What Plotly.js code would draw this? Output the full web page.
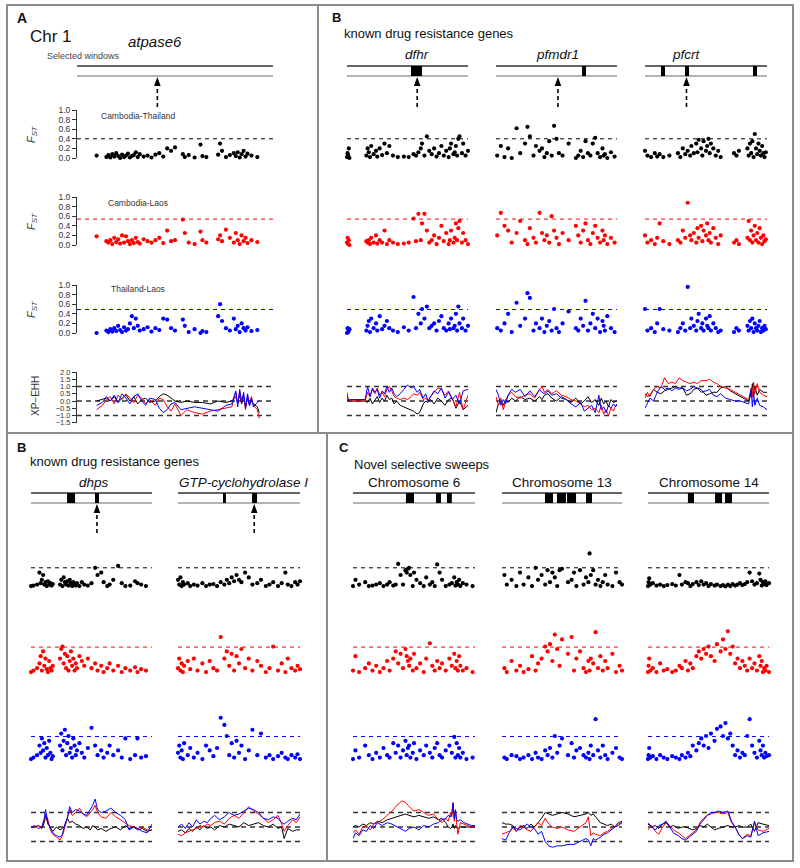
<!DOCTYPE html>
<html><head><meta charset="utf-8">
<script src="https://cdn.plot.ly/plotly-3.0.1.min.js"></script>
<style>html,body{margin:0;padding:0;background:#fff}#chart{width:800px;height:868px}</style>
</head><body><div id="chart"></div>
<script>
// ---------------- DATA ----------------
// FST thresholds (Cambodia-Thailand, Cambodia-Laos, Thailand-Laos) and XP-EHH guide levels
const FST_THRESH = [0.4, 0.54, 0.49];
const XP_GUIDES = [1, 0, -1];
const FST_TICKS = [0, 0.2, 0.4, 0.6, 0.8, 1.0];
const XP_TICKS = [-1.5, -1.0, -0.5, 0, 0.5, 1.0, 1.5, 2.0];
const COMPARISONS = ['Cambodia-Thailand', 'Cambodia-Laos', 'Thailand-Laos'];

// Chr 1 / atpase6
const A_pos = [10,15,16,17,18,19,20,21,22,23, 24,25,26,27,28,29,30,31,32,34, 36,38,40,42,44,46,48,50,54,55, 57,60,63,64,66,72,73,74,76,78, 80,81,82,83,84,85,86,87,89,92];
const A_fstCT = [0.05,0.02,0.06,0.01,0.08,0.03,0.10,0.04,0.00,0.07, 0.02,0.05,0.09,0.01,0.04,0.06,0.12,0.02,0.08,0.03, 0.05,0.01,0.07,0.10,0.03,0.20,0.15,0.22,0.08,0.02, 0.06,0.01,0.28,0.04,0.02,0.07,0.30,0.15,0.02,0.06, 0.10,0.04,0.12,0.01,0.08,0.15,0.03,0.09,0.05,0.02];
const A_fstCL = [0.18,0.08,0.05,0.10,0.02,0.15,0.06,0.12,0.03,0.20, 0.05,0.18,0.08,0.02,0.10,0.04,0.15,0.06,0.03,0.12, 0.08,0.05,0.10,0.15,0.04,0.30,0.08,0.10,0.53,0.25, 0.05,0.02,0.28,0.10,0.05,0.12,0.20,0.08,0.32,0.15, 0.05,0.25,0.10,0.02,0.20,0.08,0.15,0.04,0.10,0.06];
const A_fstTL = [0.00,0.05,0.02,0.08,0.03,0.10,0.04,0.15,0.06,0.02, 0.12,0.05,0.08,0.20,0.35,0.10,0.30,0.15,0.05,0.08, 0.12,0.03,0.10,0.06,0.30,0.28,0.10,0.05,0.28,0.15, 0.02,0.08,0.00,0.04,0.02,0.35,0.60,0.25,0.10,0.05, 0.30,0.08,0.15,0.02,0.20,0.10,0.05,0.12,0.04,0.06];
const A_xpPos = [10,13,15,17,19,21,23,25,27,29, 31,33,35,37,40,42,44,46,48,50, 53,56,60,64,68,72,76,79,81,82, 83,84,85,86,87,88,89,90,92,93];
const A_xpCT = [0.0,0.1,0.2,0.0,0.3,-0.1,0.2,0.4,0.0,0.3, -0.2,0.1,0.2,-0.1,0.0,0.3,0.5,0.4,0.2,0.0, -0.1,0.0,-0.1,-0.1,-0.2,0.0,-0.1,0.0,0.3,-0.1, 0.4,-0.2,0.3,-0.4,0.2,-0.3,0.0,-0.2,-0.4,-0.8];
const A_xpCL = [-0.6,-0.3,0.1,0.3,-0.2,0.4,0.1,0.5,0.2,-0.1, 0.4,0.2,-0.2,0.1,-0.3,0.2,0.1,-0.4,-0.7,-0.2, -1.0,-0.6,-0.8,-0.9,-0.7,-0.6,-0.5,-0.4,0.6,-0.2, 0.7,-0.1,0.5,-0.6,0.4,-0.2,0.3,-0.3,-0.6,-1.2];
const A_xpTL = [-0.3,-0.1,0.3,0.0,0.4,-0.1,0.5,0.2,-0.2,0.3, 0.5,0.0,-0.3,0.2,0.1,-0.5,-0.8,-0.6,-0.2,-0.1, -0.6,-0.5,-0.4,-0.5,-0.6,-0.7,-0.3,-0.2,0.7,-0.4, 0.8,-0.1,0.6,-0.5,0.5,-0.3,0.2,-0.4,-0.1,0.0];
const A_boxes = [];
const A_arrow = 41;

// dfhr
const dfhr_pos = [0,0.5,1,1.5,2,16,17,18,19,20, 22,24,25,27,29,31,33,35,38,42, 47,51,55,57,59,61,62,64,66,68, 70,72,74,76,78,80,82,84,85,86, 88,89,90,91,92,93,95,96,98,100];
const dfhr_fstCT = [0.02,0.10,0.05,0.20,0.00,0.05,0.20,0.12,0.02,0.25, 0.08,0.15,0.03,0.20,0.06,0.30,0.10,0.25,0.05,0.02, 0.03,0.02,0.08,0.05,0.12,0.20,0.30,0.05,0.45,0.15, 0.08,0.20,0.03,0.10,0.25,0.05,0.15,0.02,0.20,0.30, 0.08,0.12,0.25,0.05,0.40,0.45,0.10,0.30,0.05,0.15];
const dfhr_fstCL = [0.05,0.15,0.02,0.10,0.00,0.08,0.05,0.10,0.02,0.15, 0.05,0.20,0.03,0.10,0.05,0.30,0.02,0.10,0.05,0.02, 0.03,0.05,0.55,0.08,0.65,0.10,0.45,0.65,0.30,0.05, 0.10,0.20,0.02,0.15,0.40,0.08,0.25,0.02,0.10,0.30, 0.05,0.15,0.45,0.10,0.35,0.50,0.05,0.25,0.10,0.02];
const dfhr_fstTL = [0.00,0.10,0.02,0.05,0.08,0.05,0.15,0.25,0.02,0.30, 0.10,0.20,0.05,0.35,0.08,0.15,0.25,0.10,0.05,0.02, 0.12,0.05,0.75,0.10,0.40,0.20,0.50,0.30,0.55,0.10, 0.15,0.20,0.05,0.25,0.35,0.10,0.05,0.20,0.08,0.30, 0.10,0.15,0.40,0.05,0.55,0.20,0.10,0.30,0.05,0.15];
const dfhr_xpPos = [0,1,3,6,10,15,17,19,21,23, 25,27,29,31,33,35,37,39,41,44, 47,50,53,55,58,60,63,65,67,69, 72,75,78,81,84,87,90,93,96,100];
const dfhr_xpCT = [0.5,0.0,0.0,0.0,0.0,0.0,-0.1,0.2,-0.2,0.1, 0.3,-0.1,0.2,0.0,0.4,0.1,0.2,-0.2,0.0,-0.3, -0.4,-0.5,-0.6,-0.7,-0.9,-0.8,-0.2,0.0,-0.1,0.1, -0.2,0.2,0.0,-0.3,0.1,0.2,-0.5,0.0,-0.6,-0.3];
const dfhr_xpCL = [0.6,0.1,0.0,0.0,0.0,0.0,0.6,0.3,0.8,0.5, 0.9,0.4,0.6,0.3,0.8,1.0,0.7,0.3,0.2,0.1, 0.2,0.1,0.3,0.5,0.4,0.6,0.1,0.2,0.0,0.3, 0.6,0.9,0.8,0.4,0.7,0.2,-0.4,0.6,-0.6,0.4];
const dfhr_xpTL = [0.0,0.1,0.1,0.1,0.1,0.1,1.0,0.3,0.9,0.6, 0.8,0.2,0.7,0.5,1.0,0.6,0.9,0.5,0.3,0.5, 0.8,1.1,0.9,1.0,0.6,0.8,0.2,0.5,0.0,0.3, 0.7,0.5,0.9,0.2,0.6,0.1,0.4,-0.2,0.7,0.8];
const dfhr_boxes = [[52.9,62.0]];
const dfhr_arrow = 58;

// pfmdr1
const pfmdr1_pos = [1,4,7,10,13,17,20,24,26,28, 31,33,36,38,40,42,44,46,48,50, 52,55,60,66,68,70,72,74,76,78, 80,82,84,86,88,89,90,92,95,98];
const pfmdr1_fstCT = [0.05,0.25,0.02,0.20,0.00,0.62,0.10,0.30,0.65,0.45, 0.05,0.25,0.15,0.20,0.02,0.10,0.35,0.05,0.67,0.40, 0.10,0.05,0.30,0.00,0.05,0.15,0.02,0.35,0.10,0.05, 0.30,0.42,0.10,0.02,0.20,0.05,0.08,0.00,0.12,0.03];
const pfmdr1_fstCL = [0.20,0.67,0.40,0.30,0.05,0.25,0.50,0.10,0.02,0.35, 0.15,0.05,0.67,0.25,0.10,0.20,0.05,0.60,0.30,0.15, 0.02,0.25,0.10,0.40,0.20,0.05,0.30,0.45,0.10,0.02, 0.25,0.40,0.15,0.05,0.30,0.10,0.20,0.02,0.15,0.05];
const pfmdr1_fstTL = [0.10,0.05,0.20,0.40,0.02,0.63,0.15,0.30,0.83,0.73, 0.05,0.20,0.10,0.30,0.02,0.15,0.25,0.05,0.50,0.10, 0.02,0.20,0.45,0.10,0.05,0.30,0.15,0.67,0.05,0.20, 0.40,0.10,0.30,0.02,0.25,0.15,0.05,0.35,0.10,0.02];
const pfmdr1_xpPos = [0,2,4,6,8,10,13,16,20,24, 28,32,36,38,40,43,46,50,54,58, 62,66,70,73,76,79,82,85,87,89, 91,93,95,97,99,100];
const pfmdr1_xpCT = [-0.8,-0.2,0.0,-0.3,0.1,-0.1,0.2,0.0,0.3,0.1, 0.2,0.0,0.3,0.1,0.4,0.5,0.2,0.0,0.3,0.1, -0.1,0.2,-0.2,0.0,0.3,-0.1,0.1,-0.3,0.2,-0.2, 0.0,-0.4,0.1,-0.1,0.0,0.0];
const pfmdr1_xpCL = [0.3,-0.3,0.2,-0.6,0.0,0.4,0.6,0.3,0.2,0.4, 0.5,0.2,0.8,1.0,0.6,0.8,0.5,0.7,0.4,0.3, 0.1,0.0,-0.2,-0.4,-0.3,-0.6,-0.5,-0.8,-0.3,-0.9, -0.6,-1.0,-0.5,-0.7,-0.3,-0.2];
const pfmdr1_xpTL = [0.8,0.4,-0.3,0.1,-0.2,0.4,0.8,0.6,0.8,0.3, 0.7,0.3,0.8,0.6,0.5,0.7,0.4,0.5,0.2,0.1, -0.2,-0.4,-0.1,-0.7,-0.5,-0.3,-0.8,0.4,-0.6,-0.4, -0.8,-0.3,-0.5,-0.2,-0.4,-0.2];
const pfmdr1_boxes = [[71.1,74.4]];
const pfmdr1_arrow = 51.2;

// pfcrt
const pfcrt_pos = [0,2,5,8,10,12,15,20,27,29, 31,33,35,37,38,40,42,43,44,46, 47,48,50,51,52,53,54,56,58,60, 62,73,75,77,84,85,86,87,88,89, 90,91,92,93,94,95,96,97,98,99];
const pfcrt_fstCT = [0.15,0.05,0.02,0.10,0.03,0.08,0.02,0.05,0.10,0.02, 0.20,0.08,0.15,0.05,0.25,0.10,0.30,0.12,0.38,0.20, 0.05,0.35,0.15,0.25,0.40,0.10,0.30,0.20,0.05,0.15, 0.02,0.10,0.05,0.15,0.20,0.05,0.30,0.10,0.35,0.02, 0.50,0.20,0.08,0.30,0.15,0.05,0.25,0.10,0.02,0.12];
const pfcrt_fstCL = [0.20,0.05,0.10,0.02,0.15,0.45,0.08,0.02,0.10,0.05, 0.30,0.15,0.88,0.20,0.10,0.25,0.05,0.35,0.15,0.40, 0.08,0.30,0.20,0.45,0.10,0.25,0.05,0.35,0.15,0.02, 0.20,0.05,0.10,0.02,0.15,0.50,0.10,0.30,0.05,0.20, 0.40,0.10,0.25,0.05,0.35,0.15,0.02,0.20,0.08,0.12];
const pfcrt_fstTL = [0.50,0.05,0.10,0.02,0.20,0.50,0.08,0.05,0.02,0.10, 0.20,0.05,0.96,0.10,0.30,0.15,0.05,0.25,0.40,0.10, 0.20,0.05,0.30,0.15,0.10,0.35,0.05,0.20,0.10,0.02, 0.05,0.02,0.10,0.05,0.15,0.05,0.25,0.10,0.30,0.02, 0.20,0.10,0.05,0.15,0.25,0.02,0.10,0.05,0.15,0.08];
const pfcrt_xpPos = [0,2,4,7,10,13,16,19,22,25, 28,31,34,37,40,43,46,50,53,56, 59,62,66,70,74,78,82,85,87,88, 89,90,92,94,97,100];
const pfcrt_xpCT = [0.5,0.3,0.4,0.8,0.6,0.5,0.7,0.8,0.9,1.0, 0.9,0.9,0.4,0.5,0.8,0.9,0.8,0.4,0.5,0.6, 0.6,0.9,1.0,0.7,0.5,0.3,0.1,0.0,0.5,1.2, 0.3,1.0,0.4,0.8,0.6,0.6];
const pfcrt_xpCL = [0.2,0.6,0.3,0.8,1.0,0.9,1.6,1.2,1.3,1.2, 1.6,1.4,1.3,1.2,1.3,1.2,1.4,1.4,1.5,1.3, 1.2,1.0,0.9,0.8,0.6,0.4,0.2,0.1,0.9,0.3, 1.3,0.5,1.2,0.6,0.4,0.3];
const pfcrt_xpTL = [-0.5,-0.2,0.2,0.0,0.6,1.0,0.8,0.9,0.7,0.9, 0.8,0.9,0.7,0.8,1.0,0.9,0.6,0.7,0.8,0.4, 0.3,0.5,0.2,0.1,0.0,0.0,-0.1,-0.2,0.8,-0.4, 0.6,-0.3,0.2,-0.3,-0.4,-0.6];
const pfcrt_boxes = [[13.1,16.4],[32.8,36.1],[88.5,91.8]];
const pfcrt_arrow = 34;

// dhps
const dhps_pos = [0,2,5,7,8,9,10,11,12,13, 14,15,16,17,18,24,25,26,27,28, 29,30,31,32,33,34,35,36,37,38, 40,42,44,47,50,53,55,58,60,63, 65,68,72,75,78,82,86,88,91,95];
const dhps_fstCT = [0.02,0.03,0.05,0.30,0.08,0.15,0.25,0.05,0.10,0.02, 0.12,0.05,0.08,0.03,0.06,0.05,0.15,0.02,0.20,0.10, 0.05,0.12,0.03,0.15,0.08,0.02,0.10,0.05,0.03,0.08, 0.02,0.10,0.05,0.03,0.08,0.40,0.25,0.30,0.10,0.02, 0.05,0.15,0.44,0.08,0.02,0.03,0.12,0.08,0.05,0.02];
const dhps_fstCL = [0.02,0.05,0.10,0.20,0.35,0.05,0.45,0.15,0.30,0.08, 0.02,0.25,0.10,0.05,0.15,0.30,0.50,0.55,0.20,0.40, 0.10,0.35,0.05,0.25,0.45,0.15,0.30,0.05,0.20,0.10, 0.35,0.25,0.15,0.30,0.10,0.20,0.05,0.15,0.02,0.10, 0.20,0.05,0.15,0.02,0.10,0.05,0.12,0.02,0.08,0.05];
const dhps_fstTL = [0.02,0.05,0.10,0.30,0.15,0.45,0.20,0.35,0.05,0.25, 0.10,0.40,0.15,0.02,0.08,0.30,0.55,0.20,0.40,0.63, 0.10,0.35,0.50,0.15,0.25,0.05,0.45,0.30,0.10,0.20, 0.35,0.15,0.05,0.25,0.67,0.30,0.10,0.20,0.05,0.15, 0.30,0.10,0.20,0.05,0.45,0.02,0.10,0.45,0.05,0.08];
const dhps_xpPos = [0,3,6,9,11,12,14,16,18,21, 24,26,28,30,32,34,37,40,43,46, 49,51,53,55,58,62,66,70,74,78, 81,85,88,92,96,100];
const dhps_xpCT = [0.0,0.0,0.1,-0.1,0.3,0.8,0.2,-0.1,-0.3,0.0, -0.2,-0.1,0.1,0.6,0.3,0.4,0.2,0.1,-0.1,0.0, -0.2,0.1,0.0,-0.2,-0.1,-0.3,-0.1,0.0,-0.2,0.1, -0.1,0.0,-0.2,-0.1,-0.3,-0.2];
const dhps_xpCL = [0.0,0.0,0.1,0.0,0.5,0.9,0.5,-0.2,-0.5,-0.7, -0.9,-0.6,0.0,0.5,1.2,0.8,1.0,1.3,0.9,0.7, 1.0,1.2,1.5,1.0,0.7,0.6,1.0,0.7,0.5,0.3, 0.1,0.0,-0.1,0.0,-0.2,-0.2];
const dhps_xpTL = [0.0,0.1,-0.1,0.0,0.6,1.2,0.3,0.0,-0.4,-0.6, -0.7,-0.5,0.2,0.6,1.4,1.0,1.2,1.1,0.9,0.8, 1.2,1.5,1.93,1.2,1.0,1.1,1.3,1.0,0.8,0.5, -0.2,0.0,-0.1,-0.3,-0.4,0.2];
const dhps_boxes = [[29.8,36.4],[52.9,56.2]];
const dhps_arrow = 54.5;

// GTP-cyclohydrolase I
const gtp_pos = [0,1,2,3,4,5,8,10,13,16, 20,23,26,29,32,35,38,40,42,44, 46,48,50,52,55,58,61,65,68,72, 75,78,82,85,88,90,93,96,98,100];
const gtp_fstCT = [0.15,0.05,0.20,0.02,0.10,0.05,0.08,0.02,0.05,0.03, 0.08,0.02,0.05,0.06,0.02,0.10,0.05,0.15,0.08,0.20, 0.12,0.25,0.15,0.10,0.30,0.20,0.05,0.08,0.15,0.02, 0.05,0.10,0.02,0.08,0.30,0.05,0.02,0.10,0.05,0.12];
const gtp_fstCL = [0.10,0.30,0.05,0.20,0.02,0.15,0.25,0.08,0.30,0.05, 0.20,0.02,0.25,0.10,0.05,0.75,0.30,0.45,0.15,0.40, 0.05,0.35,0.20,0.50,0.10,0.30,0.05,0.25,0.15,0.02, 0.10,0.55,0.05,0.20,0.02,0.30,0.10,0.05,0.15,0.08];
const gtp_fstTL = [0.15,0.30,0.05,0.20,0.02,0.35,0.10,0.25,0.05,0.15, 0.02,0.30,0.20,0.08,0.25,0.88,0.73,0.50,0.10,0.35, 0.05,0.40,0.15,0.30,0.02,0.20,0.63,0.10,0.55,0.05, 0.10,0.02,0.08,0.15,0.05,0.02,0.10,0.05,0.12,0.02];
const gtp_xpPos = [0,3,6,9,12,15,18,21,24,27, 30,34,38,42,46,50,54,58,62,66, 70,74,78,82,85,87,90,94,97,100];
const gtp_xpCT = [-0.3,-0.2,-0.4,-0.1,-0.3,0.0,-0.2,0.1,-0.1,0.0, -0.2,0.1,0.0,0.2,0.1,0.0,0.3,0.1,0.2,0.3, 0.1,0.0,0.2,-0.1,0.0,-0.8,-0.1,-0.3,-0.2,-0.2];
const gtp_xpCL = [-0.5,-0.6,-0.4,-0.3,-0.2,-0.1,0.1,0.0,0.2,0.1, 0.3,0.4,0.2,0.6,0.8,0.6,1.0,1.4,1.1,0.9, 0.6,0.3,0.5,0.8,0.2,-0.3,0.1,0.5,0.3,0.7];
const gtp_xpTL = [0.0,0.2,-0.1,0.3,0.0,0.5,0.2,0.4,0.3,0.6, 0.8,0.5,0.7,1.0,0.8,0.9,1.1,1.3,1.2,1.0, 0.6,0.5,0.7,0.6,0.3,0.2,0.4,0.6,0.5,0.9];
const gtp_boxes = [[36.9,39.3],[60.7,64.8]];
const gtp_arrow = 62.5;

// Chromosome 6
const chr6_pos = [0,2,5,10,13,16,19,22,25,28, 30,33,35,37,39,41,43,44,45,46, 47,49,50,52,55,58,60,63,65,67, 69,71,73,76,79,81,83,84,85,86, 87,88,90,93,98];
const chr6_fstCT = [0.02,0.15,0.05,0.10,0.02,0.03,0.05,0.08,0.02,0.05, 0.10,0.03,0.05,0.48,0.25,0.05,0.35,0.30,0.38,0.40, 0.25,0.02,0.30,0.15,0.08,0.02,0.20,0.05,0.10,0.02, 0.47,0.30,0.15,0.02,0.05,0.08,0.20,0.03,0.10,0.05, 0.15,0.02,0.08,0.05,0.02];
const chr6_fstCL = [0.05,0.35,0.02,0.10,0.20,0.05,0.15,0.02,0.10,0.25, 0.05,0.30,0.45,0.20,0.40,0.10,0.50,0.35,0.25,0.15, 0.30,0.05,0.40,0.10,0.20,0.02,0.30,0.62,0.15,0.05, 0.25,0.10,0.20,0.05,0.30,0.15,0.40,0.10,0.25,0.05, 0.35,0.15,0.05,0.10,0.02];
const chr6_fstTL = [0.02,0.20,0.05,0.30,0.10,0.02,0.15,0.05,0.25,0.10, 0.05,0.35,0.15,0.30,0.05,0.20,0.40,0.10,0.25,0.30, 0.05,0.15,0.35,0.02,0.20,0.10,0.30,0.15,0.05,0.25, 0.35,0.10,0.05,0.20,0.30,0.15,0.48,0.05,0.35,0.10, 0.25,0.05,0.15,0.02,0.05];
const chr6_xpPos = [0,2,5,8,11,14,17,20,24,28, 32,36,40,43,46,50,54,58,62,66, 70,73,76,78,80,81,82,83,84,85, 86,88,91,94,97,100];
const chr6_xpCT = [0.0,0.1,0.0,0.2,0.1,0.3,0.2,0.4,0.3,0.5, 0.6,0.7,0.8,0.9,0.8,0.7,0.8,0.7,0.6,0.7, 0.5,0.6,0.3,0.0,-0.1,0.0,0.2,-0.1,0.1,0.0, -0.1,0.0,0.0,0.0,0.0,0.0];
const chr6_xpCL = [-0.4,-0.2,-0.5,0.0,0.1,-0.2,0.2,0.3,0.5,0.8, 1.1,1.5,1.8,1.7,1.4,1.1,1.2,1.0,0.8,0.9, 0.5,0.3,0.6,0.4,1.0,0.7,1.7,0.4,1.1,0.2, -0.5,0.3,0.2,0.1,0.0,0.0];
const chr6_xpTL = [-0.8,-0.4,-0.6,-0.2,-0.3,0.1,-0.1,0.3,0.1,0.3, 0.2,0.0,-0.2,-0.3,-0.1,0.0,-0.2,0.1,0.0,0.2, 0.3,0.5,0.6,0.8,0.7,1.0,1.65,0.6,1.2,0.5, 0.4,0.5,0.3,0.2,0.1,0.1];
const chr6_boxes = [[43.4,50.0],[68.0,72.1],[77.0,81.0]];

// Chromosome 13
const chr13_pos = [2,4,8,12,15,18,22,25,28,30, 33,36,38,40,42,44,46,48,50,55, 58,60,62,65,68,70,72,73,74,76, 78,80,82,84,86,88,92,95,98,100];
const chr13_fstCT = [0.25,0.05,0.15,0.02,0.30,0.05,0.20,0.02,0.40,0.15, 0.25,0.05,0.35,0.10,0.30,0.20,0.02,0.35,0.38,0.10, 0.15,0.30,0.02,0.35,0.05,0.20,0.10,0.70,0.25,0.35, 0.05,0.15,0.02,0.10,0.25,0.05,0.02,0.30,0.10,0.05];
const chr13_fstCL = [0.10,0.02,0.25,0.05,0.15,0.02,0.08,0.35,0.05,0.20, 0.30,0.55,0.45,0.60,0.25,0.80,0.50,0.15,0.70,0.40, 0.75,0.05,0.30,0.45,0.10,0.02,0.25,0.05,0.30,0.20, 0.85,0.10,0.35,0.05,0.25,0.10,0.40,0.02,0.15,0.05];
const chr13_fstTL = [0.05,0.02,0.10,0.08,0.02,0.05,0.10,0.02,0.15,0.05, 0.02,0.20,0.10,0.25,0.05,0.50,0.15,0.30,0.45,0.10, 0.35,0.05,0.20,0.25,0.10,0.05,0.15,0.02,0.30,0.10, 0.85,0.20,0.05,0.30,0.10,0.02,0.15,0.25,0.05,0.02];
const chr13_xpPos = [0,3,6,9,12,15,18,21,24,27, 30,33,36,39,42,46,50,55,60,65, 70,72,74,76,78,82,85,88,91,94, 97,100];
const chr13_xpCT = [0.3,0.2,0.2,0.1,-0.3,0.0,0.1,-0.1,0.2,0.0, 0.3,0.6,1.0,0.9,0.8,0.9,1.0,0.9,0.7,0.8, 0.9,1.0,0.8,0.9,0.7,0.3,0.2,0.1,0.2,0.0, 0.3,0.4];
const chr13_xpCL = [-0.5,-0.4,-0.3,-0.1,-0.3,0.1,0.0,-0.2,-0.3,0.0, 0.3,0.1,0.6,0.2,0.0,-0.1,0.0,-0.2,-0.3,0.0, 0.3,0.7,-0.6,-0.4,-0.5,-0.6,-0.4,-0.3,-0.1,0.0, 0.2,0.3];
const chr13_xpTL = [-0.8,-0.9,-0.4,0.0,-0.1,-0.2,0.0,0.2,0.0,-0.1, -0.5,-0.3,-1.0,-1.3,-1.4,-1.3,-1.3,-1.2,-1.2,-1.0, -0.8,-0.9,-1.3,-0.8,-0.9,-0.7,-0.5,-0.4,-0.2,0.0, 0.1,0.3];
const chr13_boxes = [[35.8,42.5],[45.8,53.3],[54.2,61.7],[70.0,75.0]];

// Chromosome 14
const chr14_pos = [0,0.5,1,2,4,7,10,13,16,20, 23,26,28,31,33,35,37,40,42,44, 46,48,50,52,55,57,60,62,64,66, 68,70,72,74,76,78,80,82,84,86, 88,90,92,93,94,95,96,97,98,100];
const chr14_fstCT = [0.02,0.10,0.18,0.05,0.08,0.03,0.05,0.02,0.04,0.06, 0.03,0.25,0.05,0.10,0.08,0.02,0.06,0.10,0.04,0.12, 0.05,0.08,0.02,0.06,0.03,0.05,0.02,0.04,0.01,0.05, 0.02,0.06,0.03,0.05,0.08,0.04,0.06,0.10,0.30,0.12, 0.05,0.08,0.28,0.15,0.03,0.10,0.06,0.12,0.04,0.08];
const chr14_fstCL = [0.02,0.15,0.30,0.05,0.10,0.02,0.20,0.05,0.08,0.02, 0.05,0.15,0.10,0.25,0.05,0.20,0.10,0.35,0.45,0.30, 0.50,0.40,0.55,0.35,0.25,0.60,0.45,0.70,0.50,0.87, 0.40,0.55,0.20,0.30,0.10,0.25,0.15,0.05,0.30,0.10, 0.20,0.05,0.35,0.15,0.25,0.02,0.10,0.05,0.15,0.02];
const chr14_fstTL = [0.02,0.10,0.25,0.05,0.08,0.02,0.10,0.05,0.02,0.08, 0.05,0.02,0.10,0.05,0.15,0.08,0.30,0.20,0.35,0.45, 0.30,0.50,0.25,0.55,0.40,0.65,0.70,0.50,0.77,0.45, 0.55,0.30,0.10,0.20,0.05,0.15,0.10,0.50,0.85,0.30, 0.15,0.05,0.40,0.20,0.10,0.30,0.05,0.15,0.08,0.10];
const chr14_xpPos = [0,3,6,9,12,15,18,21,25,28, 31,34,37,40,43,46,49,52,55,58, 62,66,69,72,75,78,82,85,88,91, 95,100];
const chr14_xpCT = [0.2,0.0,0.1,-0.1,0.2,0.3,0.0,0.1,-0.1,0.0, 0.0,-0.1,-0.2,-0.1,0.1,0.0,0.2,0.0,-0.2,-0.1, 0.0,0.1,0.0,0.0,0.1,0.0,0.0,0.2,-0.3,0.3, 0.2,0.1];
const chr14_xpCL = [-0.2,0.1,-0.3,-0.5,0.0,0.3,0.1,-0.2,-0.4,-0.6, -0.8,-0.6,-0.4,-0.2,0.3,0.6,0.8,0.9,1.0,1.0, 0.9,1.0,0.3,0.0,-0.5,-0.8,-0.5,-0.6,0.3,-0.2, -0.3,-0.1];
const chr14_xpTL = [0.3,0.0,-0.2,0.1,0.2,0.4,0.0,-0.4,-0.6,-0.8, -0.9,-0.7,-0.5,-0.3,0.2,0.5,0.8,1.0,1.0,1.1, 1.0,1.1,0.4,0.0,-0.5,-0.8,-0.6,-0.7,0.4,-0.6, -0.4,-0.3];
const chr14_boxes = [[33.0,38.0],[55.4,61.2],[63.6,69.4]];

// ---------------- LAYOUT / DRAWING ----------------
const W = 800, H = 868;
const FONT = 'Liberation Sans, Arial, Helvetica, sans-serif';
const COLORS = ['#000000', '#ff0000', '#0000ff'];
const fy = p => 1 - p / H;   // pixel row -> paper
const fx = p => p / W;       // pixel col -> paper

const ROWZ = [[158, 245, 333, 401], [587, 673, 760, 827]];
const GENEY = [{top: 66, bot: 76, label: 55, tip: 77, tail: 107}, {top: 493, bot: 503, label: 483, tip: 504, tail: 533}];
const FST_PX = 48, XP_PX = 14.5;

const columns = [
  {g: 0, x0: 77,  x1: 273, fst: [A_pos, A_fstCT, A_fstCL, A_fstTL], xp: [A_xpPos, A_xpCT, A_xpCL, A_xpTL], boxes: A_boxes, arrow: A_arrow, span: [-1, 102.6], axes: true},
  {g: 0, x0: 347, x1: 468, fst: [dfhr_pos, dfhr_fstCT, dfhr_fstCL, dfhr_fstTL], xp: [dfhr_xpPos, dfhr_xpCT, dfhr_xpCL, dfhr_xpTL], boxes: dfhr_boxes, arrow: dfhr_arrow, label: 'dfhr', labelX: 58, italic: true},
  {g: 0, x0: 496, x1: 617, fst: [pfmdr1_pos, pfmdr1_fstCT, pfmdr1_fstCL, pfmdr1_fstTL], xp: [pfmdr1_xpPos, pfmdr1_xpCT, pfmdr1_xpCL, pfmdr1_xpTL], boxes: pfmdr1_boxes, arrow: pfmdr1_arrow, label: 'pfmdr1', labelX: 51.2, italic: true},
  {g: 0, x0: 645, x1: 767, fst: [pfcrt_pos, pfcrt_fstCT, pfcrt_fstCL, pfcrt_fstTL], xp: [pfcrt_xpPos, pfcrt_xpCT, pfcrt_xpCL, pfcrt_xpTL], boxes: pfcrt_boxes, arrow: pfcrt_arrow, label: 'pfcrt', labelX: 34, italic: true},
  {g: 1, x0: 31,  x1: 152, fst: [dhps_pos, dhps_fstCT, dhps_fstCL, dhps_fstTL], xp: [dhps_xpPos, dhps_xpCT, dhps_xpCL, dhps_xpTL], boxes: dhps_boxes, arrow: dhps_arrow, label: 'dhps', labelX: 52, italic: true},
  {g: 1, x0: 178, x1: 300, fst: [gtp_pos, gtp_fstCT, gtp_fstCL, gtp_fstTL], xp: [gtp_xpPos, gtp_xpCT, gtp_xpCL, gtp_xpTL], boxes: gtp_boxes, arrow: gtp_arrow, label: 'GTP-cyclohydrolase I', labelX: 54, italic: true},
  {g: 1, x0: 353, x1: 475, fst: [chr6_pos, chr6_fstCT, chr6_fstCL, chr6_fstTL], xp: [chr6_xpPos, chr6_xpCT, chr6_xpCL, chr6_xpTL], boxes: chr6_boxes, arrow: null, label: 'Chromosome 6', labelX: 50},
  {g: 1, x0: 502, x1: 622, fst: [chr13_pos, chr13_fstCT, chr13_fstCL, chr13_fstTL], xp: [chr13_xpPos, chr13_xpCT, chr13_xpCL, chr13_xpTL], boxes: chr13_boxes, arrow: null, label: 'Chromosome 13', labelX: 50},
  {g: 1, x0: 648, x1: 769, fst: [chr14_pos, chr14_fstCT, chr14_fstCL, chr14_fstTL], xp: [chr14_xpPos, chr14_xpCT, chr14_xpCL, chr14_xpTL], boxes: chr14_boxes, arrow: null, label: 'Chromosome 14', labelX: 50}
];

const traces = [];
const shapes = [];
const annotations = [];
const layout = {
  width: W, height: H, margin: {l: 0, r: 0, t: 0, b: 0},
  paper_bgcolor: '#ffffff', plot_bgcolor: 'rgba(0,0,0,0)',
  showlegend: false, font: {family: FONT, color: '#000'},
};

const tickFont = {family: FONT, size: 8.5, color: '#333'};
const xpTickFont = {family: FONT, size: 7.5, color: '#333'};

columns.forEach((c, ci) => {
  const zeros = ROWZ[c.g];
  for (let r = 0; r < 4; r++) {
    const idx = ci * 4 + r + 1;
    const sfx = idx === 1 ? '' : String(idx);
    const xr = 'x' + sfx, yr = 'y' + sfx;
    const z = zeros[r];
    layout['xaxis' + sfx] = {domain: [fx(c.x0), fx(c.x1)], range: [0, 100], visible: false, anchor: yr, fixedrange: true};
    let yax;
    if (r < 3) {
      yax = {domain: [fy(z), fy(z - FST_PX)], range: [0, 1], anchor: xr};
      if (c.axes) Object.assign(yax, {visible: true, showline: true, linecolor: '#333', linewidth: 1, ticks: 'outside', ticklen: 4, tickcolor: '#333', tickvals: FST_TICKS, tickformat: '.1f', tickfont: tickFont, showgrid: false, zeroline: false});
      else yax.visible = false;
      traces.push({type: 'scatter', mode: 'markers', x: c.fst[0], y: c.fst[r + 1], xaxis: xr, yaxis: yr, cliponaxis: false,
        marker: {size: 4.2, color: COLORS[r], line: {width: 0}}, hoverinfo: 'skip'});
      shapes.push({type: 'line', xref: xr, yref: yr, x0: 0, x1: 100, y0: FST_THRESH[r], y1: FST_THRESH[r], line: {color: COLORS[r], width: 1, dash: '4px,4px'}, layer: 'below'});
    } else {
      yax = {domain: [fy(z + 1.5 * XP_PX), fy(z - 2.0 * XP_PX)], range: [-1.5, 2.0], anchor: xr};
      if (c.axes) Object.assign(yax, {visible: true, showline: true, linecolor: '#333', linewidth: 1, ticks: 'outside', ticklen: 4, tickcolor: '#333', tickvals: XP_TICKS, tickformat: '.1f', tickfont: xpTickFont, showgrid: false, zeroline: false});
      else yax.visible = false;
      XP_GUIDES.forEach(v => shapes.push({type: 'line', xref: xr, yref: yr, x0: 0, x1: 100, y0: v, y1: v, line: {color: '#333', width: 1.4, dash: '5px,4px'}, layer: 'below'}));
      [0, 1, 2].forEach(k => traces.push({type: 'scatter', mode: 'lines', x: c.xp[0], y: c.xp[k + 1], xaxis: xr, yaxis: yr,
        line: {color: COLORS[k], width: 1}, hoverinfo: 'skip'}));
    }
    layout['yaxis' + sfx] = yax;
  }
  // gene diagram on the column's x scale
  const xr = 'x' + (ci * 4 + 1 === 1 ? '' : String(ci * 4 + 1));
  const G = GENEY[c.g];
  const span = c.span || [0, 100];
  shapes.push({type: 'line', xref: xr, yref: 'paper', x0: span[0], x1: span[1], y0: fy(G.top), y1: fy(G.top), line: {color: '#333', width: 1.5}});
  shapes.push({type: 'line', xref: xr, yref: 'paper', x0: span[0], x1: span[1], y0: fy(G.bot), y1: fy(G.bot), line: {color: '#9a9a9a', width: 1.5}});
  c.boxes.forEach(b => shapes.push({type: 'rect', xref: xr, yref: 'paper', x0: b[0], x1: b[1], y0: fy(G.bot), y1: fy(G.top), fillcolor: '#000', line: {width: 0}}));
  if (c.arrow !== null && c.arrow !== undefined) {
    const hw = 3.3 * 100 / (c.x1 - c.x0);
    shapes.push({type: 'line', xref: xr, yref: 'paper', x0: c.arrow, x1: c.arrow, y0: fy(G.tail), y1: fy(G.tip + 8), line: {color: '#000', width: 1.6, dash: '4px,3px'}});
    shapes.push({type: 'path', xref: xr, yref: 'paper', path: `M ${c.arrow - hw},${fy(G.tip + 9)} L ${c.arrow + hw},${fy(G.tip + 9)} L ${c.arrow},${fy(G.tip)} Z`, fillcolor: '#000', line: {width: 0}});
  }
  if (c.label) {
    annotations.push({xref: xr, yref: 'paper', x: c.labelX, y: fy(G.label), text: c.italic ? '<i>' + c.label + '</i>' : c.label, showarrow: false, xanchor: 'center', yanchor: 'middle', font: {family: FONT, size: 13.5, color: '#111'}});
  }
});

// panel borders
[[7, 5, 318, 433], [318, 5, 793, 433], [7, 433, 327, 861], [327, 433, 793, 861]].forEach(b =>
  shapes.push({type: 'rect', xref: 'paper', yref: 'paper', x0: fx(b[0]), x1: fx(b[2]), y0: fy(b[3]), y1: fy(b[1]), line: {color: '#8c8c8c', width: 2}, fillcolor: 'rgba(0,0,0,0)'}));

function txt(x, y, text, size, opts) {
  annotations.push(Object.assign({xref: 'paper', yref: 'paper', x: fx(x), y: fy(y), text: text, showarrow: false, xanchor: 'left', yanchor: 'middle', font: {family: FONT, size: size, color: '#111'}}, opts || {}));
}
txt(15, 18, '<b>A</b>', 14);
txt(28, 36, 'Chr 1', 17);
txt(155, 42, '<i>atpase6</i>', 15, {xanchor: 'center'});
txt(83, 56, 'Selected windows', 9, {xanchor: 'center', font: {family: FONT, size: 9, color: '#444'}});
txt(330, 17, '<b>B</b>', 13);
txt(342, 33, 'known drug resistance genes', 13);
txt(15, 447, '<b>B</b>', 13);
txt(28, 461, 'known drug resistance genes', 13);
txt(337, 447, '<b>C</b>', 13);
txt(352, 464, 'Novel selective sweeps', 13);
[116, 203, 289].forEach((y, i) => txt(138, y, COMPARISONS[i], 8.5, {xanchor: 'center', font: {family: FONT, size: 8.5, color: '#333'}}));
ROWZ[0].slice(0, 3).forEach(z => txt(32, z - 24, '<i>F</i><sub><i>ST</i></sub>', 11, {xanchor: 'center', textangle: -90, font: {family: FONT, size: 11, color: '#444'}}));
txt(35, 396, 'XP\u2212EHH', 10, {xanchor: 'center', textangle: -90, font: {family: FONT, size: 10, color: '#333'}});

layout.shapes = shapes;
layout.annotations = annotations;
Plotly.newPlot('chart', traces, layout, {staticPlot: true, displayModeBar: false});
</script>
</body></html>
